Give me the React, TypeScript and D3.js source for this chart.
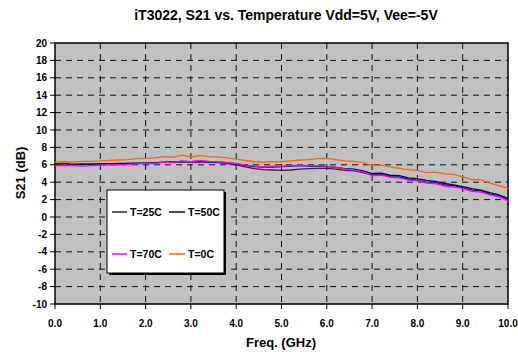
import React from "react";
import * as d3 from "d3";

const freqs = [0.0,0.2,0.4,0.6,0.8,1.0,1.2,1.4,1.6,1.8,2.0,2.2,2.4,2.6,2.8,3.0,3.2,3.4,3.6,3.8,4.0,4.2,4.4,4.6,4.8,5.0,5.2,5.4,5.6,5.8,6.0,6.2,6.4,6.6,6.8,7.0,7.2,7.4,7.6,7.8,8.0,8.2,8.4,8.6,8.8,9.0,9.2,9.4,9.6,9.8,10.0];

const t25 = [6.05,6.1,6.05,6.05,6.1,6.1,6.1,6.15,6.15,6.2,6.2,6.25,6.3,6.3,6.35,6.3,6.35,6.3,6.25,6.15,6.0,5.75,5.55,5.45,5.4,5.35,5.4,5.5,5.55,5.6,5.6,5.5,5.35,5.3,5.1,4.85,4.9,4.65,4.6,4.35,4.25,4.0,3.95,3.7,3.6,3.35,3.1,3.0,2.65,2.45,2.05];
const t50 = [6.1,6.1,6.05,6.1,6.05,6.1,6.1,6.1,6.15,6.15,6.2,6.2,6.3,6.3,6.4,6.35,6.4,6.35,6.3,6.25,6.1,5.95,5.8,5.75,5.75,5.8,5.85,5.9,5.85,5.85,5.8,5.7,5.55,5.5,5.3,5.0,5.05,4.8,4.75,4.5,4.4,4.2,4.1,3.85,3.7,3.5,3.25,3.1,2.8,2.55,2.15];
const t70 = [5.9,5.95,5.9,5.85,5.9,5.95,6.0,6.0,6.05,6.1,6.15,6.15,6.3,6.25,6.45,6.35,6.5,6.4,6.35,6.25,6.15,6.0,5.85,5.8,5.85,5.85,5.9,5.95,5.9,5.9,5.85,5.7,5.5,5.4,5.2,4.75,4.8,4.55,4.5,4.25,4.15,3.9,3.85,3.55,3.45,3.25,2.95,2.85,2.55,2.3,1.85];
const t0 = [6.3,6.35,6.3,6.4,6.4,6.45,6.5,6.55,6.6,6.7,6.75,6.8,6.95,6.85,7.1,6.9,7.05,6.95,6.9,6.8,6.65,6.5,6.35,6.3,6.35,6.35,6.45,6.55,6.6,6.7,6.75,6.6,6.45,6.4,6.25,5.9,5.95,5.75,5.6,5.45,5.35,5.1,5.15,4.95,4.9,4.6,4.3,4.3,3.9,3.6,3.3];

const seriesNames = ["T=25C", "T=50C", "T=70C", "T=0C"];
const seriesValues = [t25, t50, t70, t0];
const seriesColors = ["#2a2a2a", "#000080", "#FF00FF", "#FF6600"];

const xTicks = [0,1,2,3,4,5,6,7,8,9,10];
const yTicks = [-10,-8,-6,-4,-2,0,2,4,6,8,10,12,14,16,18,20];

const title = "iT3022, S21 vs. Temperature Vdd=5V, Vee=-5V";
const xTitle = "Freq. (GHz)";
const yTitle = "S21 (dB)";

export default function App() {
  const W = 518, H = 352;
  const L = 55, R = 508, T = 43, B = 304;
  const x = d3.scaleLinear().domain([0, 10]).range([L, R]);
  const y = d3.scaleLinear().domain([-10, 20]).range([B, T]);
  const line = d3.line<number>().x((_, i) => x(freqs[i])).y((d) => y(d));
  const font = "'Liberation Sans', Arial, sans-serif";

  const lx = 107, ly = 190, lw = 117, lh = 83;
  const legendPos = [
    { x1: 112, x2: 127, tx: 130, y: 212 },
    { x1: 169, x2: 185, tx: 188, y: 212 },
    { x1: 112, x2: 127, tx: 130, y: 254 },
    { x1: 169, x2: 185, tx: 188, y: 254 },
  ];

  return (
    <svg width={W} height={H} style={{ position: "absolute", left: 0, top: 0, background: "#fff" }} fontFamily={font}>
      <text x={286} y={20} textAnchor="middle" fontSize={14} fontWeight="bold">{title}</text>
      <rect x={L} y={T} width={R - L} height={B - T} fill="#C0C0C0" />
      {yTicks.filter((t) => t !== -10 && t !== 20).map((t) => (
        <line key={"gy" + t} x1={L} x2={R} y1={y(t)} y2={y(t)} stroke="#111" strokeWidth={1} strokeDasharray="6,5" />
      ))}
      {xTicks.filter((t) => t !== 0 && t !== 10).map((t) => (
        <line key={"gx" + t} x1={x(t)} x2={x(t)} y1={T} y2={B} stroke="#111" strokeWidth={1} strokeDasharray="6,5" />
      ))}
      <rect x={L} y={T} width={R - L} height={B - T} fill="none" stroke="#000" strokeWidth={1.5} />
      {yTicks.map((t) => (
        <g key={"yt" + t}>
          <line x1={L - 5} x2={L} y1={y(t)} y2={y(t)} stroke="#000" />
          <text x={47} y={y(t)} dy="0.35em" textAnchor="end" fontSize={10} fontWeight="bold">{t}</text>
        </g>
      ))}
      {xTicks.map((t) => (
        <g key={"xt" + t}>
          <line x1={x(t)} x2={x(t)} y1={B} y2={B + 5} stroke="#000" />
          <text x={x(t)} y={323} dy="0.35em" textAnchor="middle" fontSize={10} fontWeight="bold">{t.toFixed(1)}</text>
        </g>
      ))}
      <text x={281} y={342} dy="0.35em" textAnchor="middle" fontSize={13} fontWeight="bold">{xTitle}</text>
      <text transform={`translate(20,173) rotate(-90)`} dy="0.35em" textAnchor="middle" fontSize={13} fontWeight="bold">{yTitle}</text>
      {seriesValues.map((vals, i) => (
        <path key={"s" + i} d={line(vals) || ""} fill="none" stroke={seriesColors[i]} strokeWidth={1.3} />
      ))}
      <rect x={lx + 2} y={ly + 2} width={lw} height={lh} fill="#000" />
      <rect x={lx} y={ly} width={lw} height={lh} fill="#fff" stroke="#000" strokeWidth={1} />
      {seriesNames.map((n, i) => (
        <g key={"lg" + i}>
          <line x1={legendPos[i].x1} x2={legendPos[i].x2} y1={legendPos[i].y} y2={legendPos[i].y} stroke={seriesColors[i]} strokeWidth={1.5} />
          <text x={legendPos[i].tx} y={legendPos[i].y} dy="0.35em" fontSize={10.5} fontWeight="bold">{n}</text>
        </g>
      ))}
    </svg>
  );
}
